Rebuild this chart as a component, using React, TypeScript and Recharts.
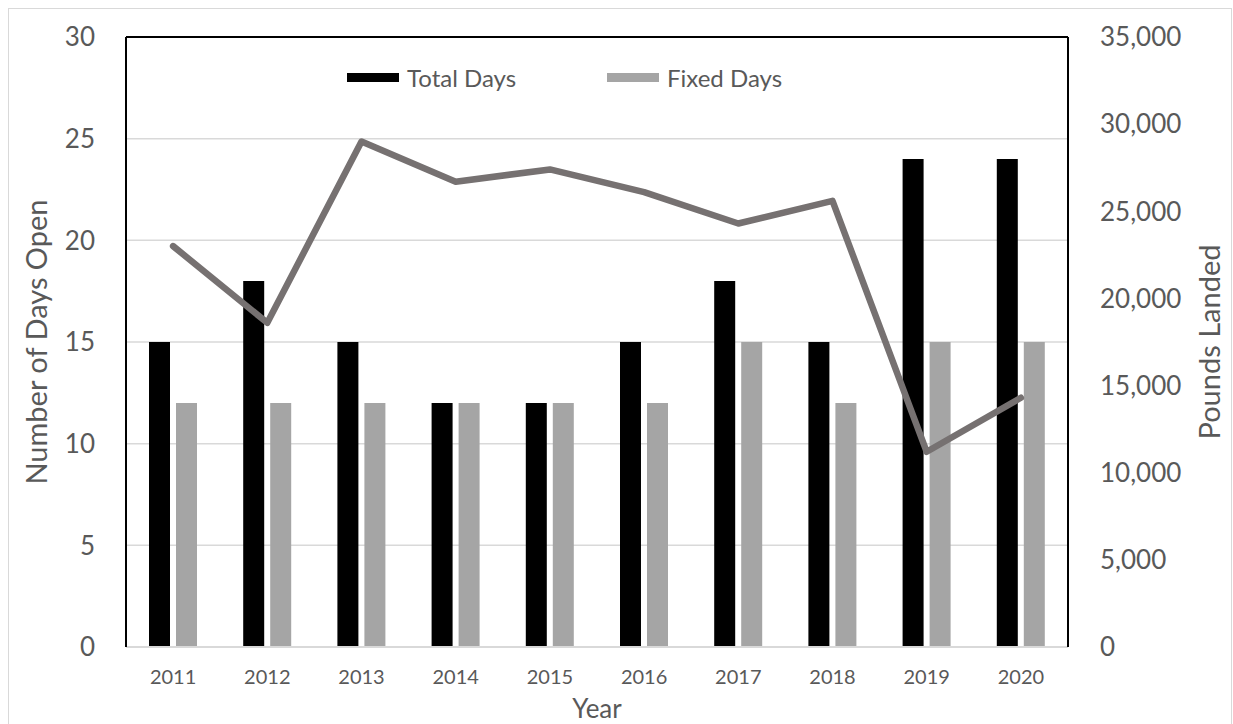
import React from 'react'
import {
  ComposedChart, Bar, Line, XAxis, YAxis, CartesianGrid, Legend, ReferenceLine,
} from 'recharts'

const years = ['2011', '2012', '2013', '2014', '2015', '2016', '2017', '2018', '2019', '2020']
const totalDays = [15, 18, 15, 12, 12, 15, 18, 15, 24, 24]
const fixedDays = [12, 12, 12, 12, 12, 12, 15, 12, 15, 15]
const poundsLanded = [23000, 18600, 29000, 26700, 27400, 26100, 24300, 25600, 11200, 14300]
const dayTicks = [0, 5, 10, 15, 20, 25, 30]
const poundTicks = [0, 5000, 10000, 15000, 20000, 25000, 30000, 35000]

const data = years.map((year, i) => ({
  year,
  total: totalDays[i],
  fixed: fixedDays[i],
  pounds: poundsLanded[i],
}))

const FONT = 'Lato, "Open Sans", sans-serif'
const TEXT = '#595959'

// legend drawn by hand so the two items sit far apart like the original
function LegendBox() {
  const items = [
    { label: 'Total Days', color: '#000000' },
    { label: 'Fixed Days', color: '#A5A5A5' },
  ]
  return (
    <div style={{ display: 'flex', fontFamily: FONT, fontSize: 24, color: TEXT }}>
      {items.map((it) => (
        <div key={it.label} style={{ width: 260, display: 'flex', alignItems: 'center' }}>
          <span style={{ display: 'inline-block', width: 52, height: 9, background: it.color, marginRight: 8 }} />
          <span>{it.label}</span>
        </div>
      ))}
    </div>
  )
}

export default function App() {
  return (
    <div style={{ position: 'fixed', left: 0, top: 0, width: 1233, height: 724, overflow: 'hidden', background: '#fff' }}>
      <div
        style={{
          position: 'absolute', left: 8, top: 8, width: 1224, height: 740,
          border: '1px solid #d9d9d9', boxSizing: 'border-box',
        }}
      >
        <ComposedChart
          width={1222}
          height={730}
          data={data}
          margin={{ top: 28, right: 0, bottom: 0, left: 0 }}
          barSize={21}
          barGap={6}
          style={{ fontFamily: FONT }}
        >
          <CartesianGrid vertical={false} stroke="#d9d9d9" strokeWidth={1.5} yAxisId="days" />
          <XAxis
            dataKey="year"
            height={92}
            tickLine={false}
            tickSize={0}
            tickMargin={23}
            axisLine={{ stroke: '#d9d9d9', strokeWidth: 2 }}
            tick={{ fill: TEXT, fontSize: 20 }}
            label={{ value: 'Year', position: 'insideBottom', offset: 21, fill: TEXT, fontSize: 26 }}
          />
          <YAxis
            yAxisId="days"
            orientation="left"
            width={117}
            domain={[0, 30]}
            ticks={dayTicks}
            tickLine={false}
            tickSize={0}
            tickMargin={31}
            axisLine={{ stroke: '#000', strokeWidth: 2 }}
            tick={{ fill: TEXT, fontSize: 26 }}
            label={{
              value: 'Number of Days Open', angle: -90, position: 'insideLeft', offset: 28,
              fill: TEXT, fontSize: 29, style: { textAnchor: 'middle' },
            }}
          />
          <YAxis
            yAxisId="pounds"
            orientation="right"
            width={163}
            domain={[0, 35000]}
            ticks={poundTicks}
            tickLine={false}
            tickSize={0}
            tickMargin={32}
            axisLine={{ stroke: '#000', strokeWidth: 2 }}
            tick={{ fill: TEXT, fontSize: 26 }}
            tickFormatter={(v: number) => v.toLocaleString('en-US')}
            label={{
              value: 'Pounds Landed', angle: -90, position: 'insideRight', offset: 21,
              fill: TEXT, fontSize: 29, style: { textAnchor: 'middle' },
            }}
          />
          <ReferenceLine yAxisId="days" y={30} stroke="#000" strokeWidth={2} />
          <Legend
            layout="horizontal"
            verticalAlign="middle"
            align="center"
            content={() => <LegendBox />}
            wrapperStyle={{ top: 54, left: 338, width: 'auto' }}
          />
          <Bar yAxisId="days" dataKey="total" name="Total Days" fill="#000000" isAnimationActive={false} />
          <Bar yAxisId="days" dataKey="fixed" name="Fixed Days" fill="#A5A5A5" isAnimationActive={false} />
          <Line
            yAxisId="pounds"
            dataKey="pounds"
            name="Pounds Landed"
            type="linear"
            stroke="#767171"
            strokeWidth={6.5}
            strokeLinecap="round"
            strokeLinejoin="round"
            dot={false}
            activeDot={false}
            legendType="none"
            isAnimationActive={false}
          />
        </ComposedChart>
      </div>
    </div>
  )
}
